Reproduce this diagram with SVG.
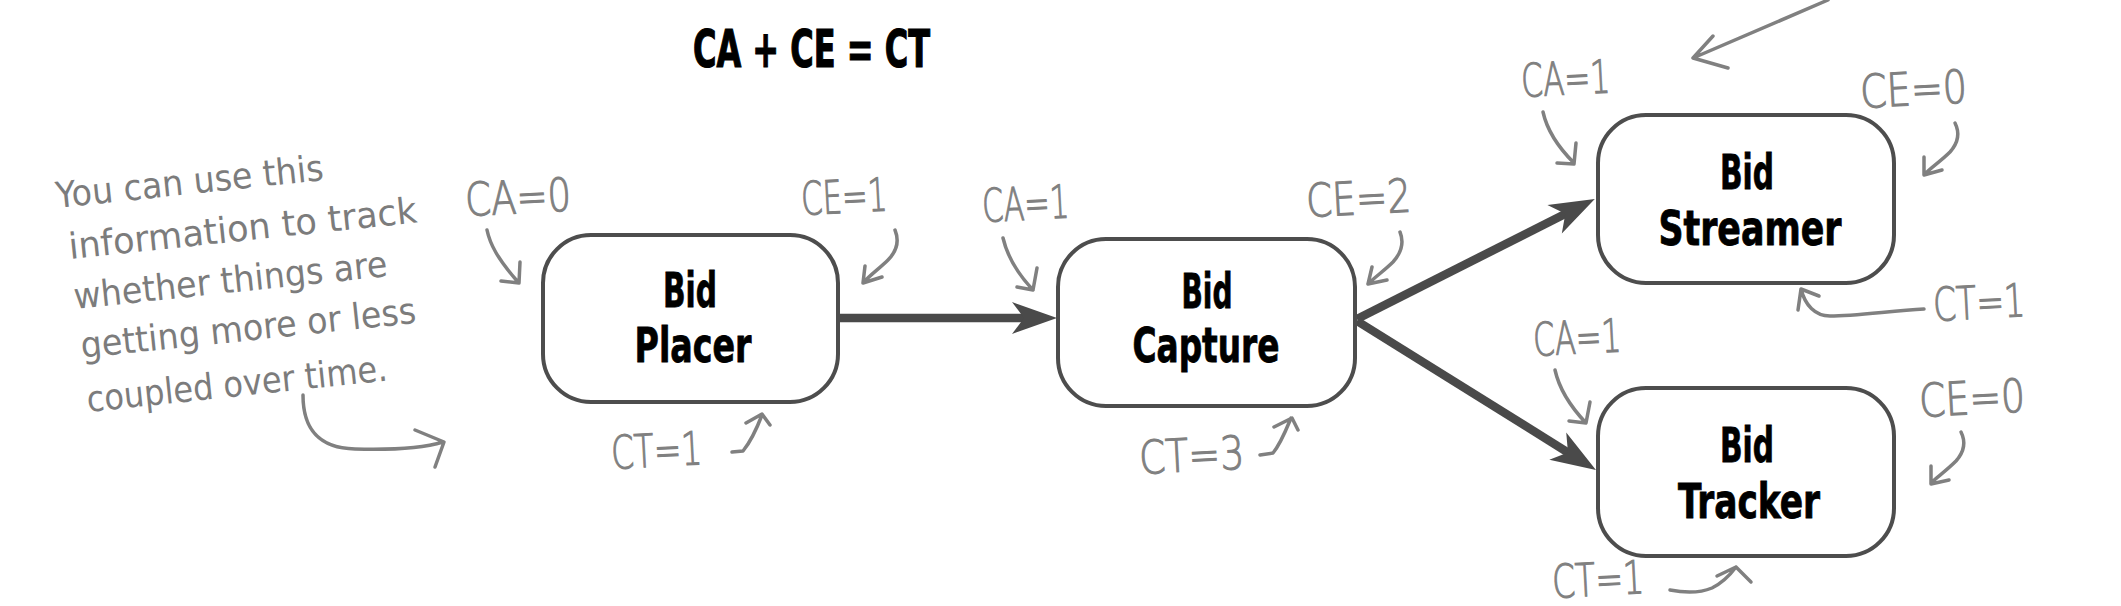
<svg xmlns="http://www.w3.org/2000/svg" width="2121" height="606" viewBox="0 0 2121 606">
<defs>
<style>
.node rect{fill:#fff;stroke:#4d4d4d;stroke-width:4}
.nt{font-family:"Liberation Sans Narrow","DejaVu Sans Condensed","Liberation Sans",sans-serif;font-weight:700;font-size:48px;fill:#000;stroke:#000;stroke-width:0.8;text-anchor:middle}
.title{font-family:"Liberation Sans Narrow","DejaVu Sans Condensed","Liberation Sans",sans-serif;font-weight:700;font-size:52px;fill:#000;stroke:#000;stroke-width:1.2}
.lbl{font-family:"DejaVu Sans","Liberation Sans",sans-serif;font-weight:200;font-size:46px;fill:#808080;stroke:#808080;stroke-width:1.1}
.note{font-family:"DejaVu Sans","Liberation Sans",sans-serif;font-weight:400;font-size:36px;fill:#7c7c7c}
.conn{fill:none;stroke:#4a4a4a;stroke-width:8.5}
.ga{fill:none;stroke:#808080;stroke-width:3.5;stroke-linecap:round;stroke-linejoin:round}
</style>
<marker id="head" viewBox="-76 -17 78 34" markerWidth="78" markerHeight="34" refX="-30" refY="0" markerUnits="userSpaceOnUse" orient="auto">
<path d="M0,0 L-45,-16 L-33,0 L-45,16 Z" fill="#4a4a4a"/>
</marker>
</defs>

<text class="title" x="693" y="67" textLength="237" lengthAdjust="spacingAndGlyphs">CA + CE = CT</text>

<g id="note">
<text class="note" x="57" y="208" transform="rotate(-6 57 208)" textLength="269" lengthAdjust="spacingAndGlyphs">You can use this</text>
<text class="note" x="70" y="259" transform="rotate(-6 70 259)" textLength="350" lengthAdjust="spacingAndGlyphs">information to track</text>
<text class="note" x="75" y="309" transform="rotate(-6 75 309)" textLength="315" lengthAdjust="spacingAndGlyphs">whether things are</text>
<text class="note" x="82" y="358" transform="rotate(-6 82 358)" textLength="337" lengthAdjust="spacingAndGlyphs">getting more or less</text>
<text class="note" x="88" y="412" transform="rotate(-6 88 412)" textLength="302" lengthAdjust="spacingAndGlyphs">coupled over time.</text>
</g>

<g id="connectors">
<path class="conn" d="M838,318 L1027,318" marker-end="url(#head)"/>
<path class="conn" d="M1357,319 L1568,212.5" marker-end="url(#head)"/>
<path class="conn" d="M1357,321 L1570.5,454.1" marker-end="url(#head)"/>
</g>

<g id="node-bid-placer" class="node">
<rect x="543" y="235" width="295" height="167" rx="48"/>
<text class="nt" x="690" y="307" textLength="54" lengthAdjust="spacingAndGlyphs">Bid</text>
<text class="nt" x="693" y="362" textLength="117" lengthAdjust="spacingAndGlyphs">Placer</text>
</g>
<g id="node-bid-capture" class="node">
<rect x="1058" y="239" width="297" height="167" rx="48"/>
<text class="nt" x="1207" y="308" textLength="51" lengthAdjust="spacingAndGlyphs">Bid</text>
<text class="nt" x="1206" y="362" textLength="147" lengthAdjust="spacingAndGlyphs">Capture</text>
</g>
<g id="node-bid-streamer" class="node">
<rect x="1598" y="115" width="296" height="168" rx="48"/>
<text class="nt" x="1747" y="189" textLength="54" lengthAdjust="spacingAndGlyphs">Bid</text>
<text class="nt" x="1750" y="245" textLength="183" lengthAdjust="spacingAndGlyphs">Streamer</text>
</g>
<g id="node-bid-tracker" class="node">
<rect x="1598" y="388" width="296" height="168" rx="48"/>
<text class="nt" x="1747" y="462" textLength="54" lengthAdjust="spacingAndGlyphs">Bid</text>
<text class="nt" x="1749" y="518" textLength="142" lengthAdjust="spacingAndGlyphs">Tracker</text>
</g>

<g id="labels">
<text class="lbl" x="466" y="216" transform="rotate(-3 466 216)" textLength="106" lengthAdjust="spacingAndGlyphs">CA=0</text>
<text class="lbl" x="802" y="215" transform="rotate(-3 802 215)" textLength="86" lengthAdjust="spacingAndGlyphs">CE=1</text>
<text class="lbl" x="983" y="222" transform="rotate(-3 983 222)" textLength="87" lengthAdjust="spacingAndGlyphs">CA=1</text>
<text class="lbl" x="1307" y="217" transform="rotate(-3 1307 217)" textLength="105" lengthAdjust="spacingAndGlyphs">CE=2</text>
<text class="lbl" x="612" y="469" transform="rotate(-3 612 469)" textLength="91" lengthAdjust="spacingAndGlyphs">CT=1</text>
<text class="lbl" x="1140" y="474" transform="rotate(-3 1140 474)" textLength="105" lengthAdjust="spacingAndGlyphs">CT=3</text>
<text class="lbl" x="1522" y="97" transform="rotate(-3 1522 97)" textLength="89" lengthAdjust="spacingAndGlyphs">CA=1</text>
<text class="lbl" x="1861" y="108" transform="rotate(-3 1861 108)" textLength="107" lengthAdjust="spacingAndGlyphs">CE=0</text>
<text class="lbl" x="1934" y="321" transform="rotate(-3 1934 321)" textLength="92" lengthAdjust="spacingAndGlyphs">CT=1</text>
<text class="lbl" x="1534" y="356" transform="rotate(-3 1534 356)" textLength="88" lengthAdjust="spacingAndGlyphs">CA=1</text>
<text class="lbl" x="1920" y="417" transform="rotate(-3 1920 417)" textLength="106" lengthAdjust="spacingAndGlyphs">CE=0</text>
<text class="lbl" x="1553" y="598" transform="rotate(-3 1553 598)" textLength="92" lengthAdjust="spacingAndGlyphs">CT=1</text>
</g>

<g id="annotation-arrows">
<path class="ga" d="M487,230 C490,244 497,258 518,282 M501,281 L519,283 L520,262"/>
<path class="ga" d="M895,230 C899,240 898,250 888,260 C880,268 870,275 864,282 M865,266 L863,283 L882,277"/>
<path class="ga" d="M732,452 L743,451 C752,440 757,428 762,415 M746,423 L762,414 L770,425"/>
<path class="ga" d="M303,395 C303,425 315,448 355,449 C390,450 420,449 443,442 M415,430 L444,442 L435,467"/>
<path class="ga" d="M1003,238 C1007,255 1016,272 1033,290 M1017,287 L1033,290 L1037,268"/>
<path class="ga" d="M1400,232 C1404,242 1402,252 1393,262 C1385,270 1375,277 1368,284 M1372,267 L1368,284 L1387,280"/>
<path class="ga" d="M1260,455 L1273,453 C1281,443 1286,430 1291,418 M1274,427 L1292,418 L1298,430"/>
<path class="ga" d="M1543,112 C1547,130 1558,147 1574,163 M1557,163 L1574,164 L1576,143"/>
<path class="ga" d="M1955,123 C1960,133 1958,143 1950,152 C1940,162 1930,168 1924,175 M1924,157 L1924,175 L1942,170"/>
<path class="ga" d="M1924,309 C1890,311 1855,316 1830,316 C1815,316 1805,305 1801,289 M1798,310 L1801,289 L1819,296"/>
<path class="ga" d="M1828,0 Q1765,27 1693,58 M1713,36 L1693,58 L1728,68"/>
<path class="ga" d="M1555,370 C1559,388 1569,405 1586,423 M1569,421 L1586,423 L1590,402"/>
<path class="ga" d="M1961,432 C1966,442 1964,452 1956,461 C1946,471 1937,477 1931,483 M1931,466 L1931,484 L1949,480"/>
<path class="ga" d="M1670,590 C1685,593 1700,593 1712,588 C1722,583 1730,575 1736,567 M1717,576 L1736,567 L1751,582"/>
</g>
</svg>
